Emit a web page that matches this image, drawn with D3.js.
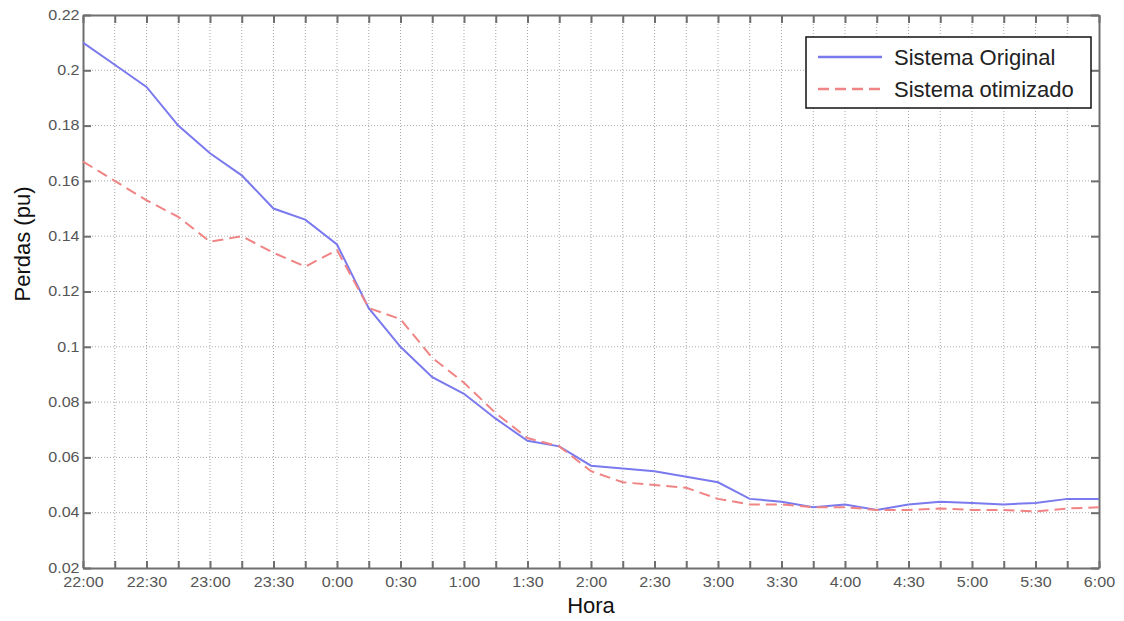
<!DOCTYPE html>
<html>
<head>
<meta charset="utf-8">
<script src="https://cdn.jsdelivr.net/npm/d3@7"></script>
<style>
  body { margin: 0; background: #fff; }
  svg { display: block; font-family: "Liberation Sans", Arial, sans-serif; }
</style>
</head>
<body>
<svg id="chart" width="1124" height="621"></svg>
<script>
// dados (intervalos de 15 min)
var horas = ["22:00","22:15","22:30","22:45","23:00","23:15","23:30","23:45",
  "0:00","0:15","0:30","0:45","1:00","1:15","1:30","1:45","2:00","2:15","2:30","2:45",
  "3:00","3:15","3:30","3:45","4:00","4:15","4:30","4:45","5:00","5:15","5:30","5:45","6:00"];
var rotulosX = ["22:00","22:30","23:00","23:30","0:00","0:30","1:00","1:30","2:00",
  "2:30","3:00","3:30","4:00","4:30","5:00","5:30","6:00"];
var ticksY = [0.02,0.04,0.06,0.08,0.1,0.12,0.14,0.16,0.18,0.2,0.22];
var original = [0.210,0.202,0.194,0.180,0.170,0.162,0.150,0.146,0.137,0.114,
  0.100,0.089,0.083,0.074,0.066,0.064,0.057,0.056,0.055,0.053,
  0.051,0.045,0.044,0.042,0.043,0.041,0.043,0.044,0.0435,0.043,
  0.0435,0.045,0.045];
var otimizado = [0.167,0.160,0.153,0.147,0.138,0.140,0.134,0.129,0.135,0.114,
  0.110,0.096,0.087,0.076,0.067,0.064,0.055,0.051,0.050,0.049,
  0.045,0.043,0.043,0.042,0.042,0.041,0.041,0.0415,0.041,0.041,
  0.0405,0.0415,0.042];
var series = ["Sistema Original", "Sistema otimizado"];
var cores = ["#7a7aee", "#f08484"];

var L = 83, R = 1099, T = 15, B = 568;
var sx = 1.15; // texto dos ticks levemente esticado

var svg = d3.select("#chart");

var x = d3.scalePoint().domain(horas).range([L, R]);
var y = d3.scaleLinear().domain([0.02, 0.22]).range([B, T]);

// grade pontilhada
var grid = svg.append("g").attr("stroke", "#a8a8a8").attr("stroke-width", 1)
  .attr("stroke-dasharray", "1,2");
grid.selectAll(".gx").data(horas.slice(1, -1)).enter().append("line")
  .attr("x1", d => x(d)).attr("x2", d => x(d)).attr("y1", T).attr("y2", B);
grid.selectAll(".gy").data(ticksY.slice(1, -1)).enter().append("line")
  .attr("x1", L).attr("x2", R).attr("y1", d => y(d)).attr("y2", d => y(d));

// eixos
var fmtX = d => rotulosX.indexOf(d) >= 0 ? d : "";
var fmtY = d => String(+d.toFixed(2));

var gB = svg.append("g").attr("transform", "translate(0," + B + ")")
  .call(d3.axisBottom(x).tickValues(horas).tickFormat(fmtX).tickSize(-7).tickSizeOuter(0).tickPadding(9));
var gT = svg.append("g").attr("transform", "translate(0," + T + ")")
  .call(d3.axisTop(x).tickValues(horas).tickFormat("").tickSize(-8).tickSizeOuter(0));
var gL = svg.append("g").attr("transform", "translate(" + L + ",0)")
  .call(d3.axisLeft(y).tickValues(ticksY).tickFormat(fmtY).tickSize(-8).tickSizeOuter(0).tickPadding(3));
var gR = svg.append("g").attr("transform", "translate(" + R + ",0)")
  .call(d3.axisRight(y).tickValues(ticksY).tickFormat("").tickSize(-8).tickSizeOuter(0));

[gB, gT, gL, gR].forEach(function (g) {
  g.select(".domain").attr("stroke", "#6e6e6e").attr("stroke-width", 2);
  g.selectAll(".tick line").attr("stroke", "#6e6e6e").attr("stroke-width", 2);
  g.selectAll(".tick text").attr("fill", "#555").style("font-size", "14px")
    .style("font-family", "'Liberation Sans', Arial, sans-serif")
    .attr("transform", "scale(" + sx + ",1)");
});
gB.selectAll(".tick text").attr("dy", "0.72em");
gL.selectAll(".tick text").attr("dy", "0.3em");

// linhas
var linha = d3.line().x((d, i) => x(horas[i])).y(d => y(d));
svg.append("path").datum(original).attr("d", linha).attr("fill", "none")
  .attr("stroke", cores[0]).attr("stroke-width", 2);
svg.append("path").datum(otimizado).attr("d", linha).attr("fill", "none")
  .attr("stroke", cores[1]).attr("stroke-width", 2).attr("stroke-dasharray", "11,6");

// legenda
var leg = svg.append("g");
leg.append("rect").attr("x", 806).attr("y", 37).attr("width", 285).attr("height", 71)
  .attr("fill", "#fff").attr("stroke", "#111").attr("stroke-width", 1.5);
series.forEach(function (s, i) {
  var yy = 57 + i * 32;
  leg.append("line").attr("x1", 818).attr("x2", 882).attr("y1", yy).attr("y2", yy)
    .attr("stroke", cores[i]).attr("stroke-width", 2.5)
    .attr("stroke-dasharray", i ? "11,6" : null);
  leg.append("text").attr("x", 894).attr("y", yy + 8).text(s)
    .attr("fill", "#222").style("font-size", "22px");
});

// titulos dos eixos
svg.append("text").attr("x", (L + R) / 2).attr("y", 613).attr("text-anchor", "middle")
  .attr("fill", "#111").style("font-size", "22px").text("Hora");
svg.append("text").attr("transform", "translate(30,244) rotate(-90)").attr("text-anchor", "middle")
  .attr("fill", "#111").style("font-size", "22px").text("Perdas (pu)");
</script>
</body>
</html>
